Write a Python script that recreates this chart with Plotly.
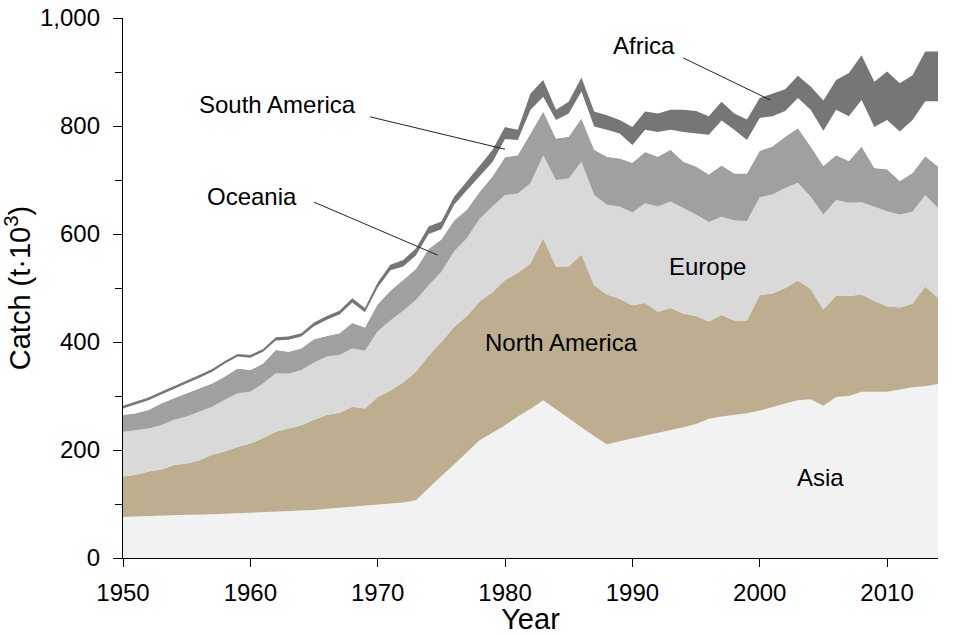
import plotly.graph_objects as go

# catch by region, thousand tonnes
years = list(range(1950, 2015))

asia = [76, 77, 78, 78, 79, 80, 80, 81, 82, 83,
        83, 84, 85, 86, 87, 89, 91, 93, 95, 96,
        98, 100, 103, 107, 130, 152, 173, 195, 218, 232,
        246, 262, 276, 292, 275, 258, 242, 226, 210, 216,
        221, 226, 231, 236, 242, 248, 258, 262, 265, 268,
        273, 280, 286, 292, 294, 282, 298, 300, 308, 308,
        308, 312, 316, 318, 322]

north_america = [75, 77, 82, 86, 93, 95, 101, 110, 115, 123,
                 129, 138, 149, 154, 159, 167, 174, 176, 185, 181,
                 200, 210, 222, 238, 245, 248, 255, 253, 257, 260,
                 269, 266, 270, 300, 265, 282, 320, 279, 278, 264,
                 247, 246, 225, 227, 211, 200, 180, 188, 175, 172,
                 214, 210, 214, 222, 204, 178, 188, 185, 180, 168,
                 158, 152, 155, 185, 160]

europe = [83, 83, 80, 82, 84, 87, 90, 89, 96, 99,
          96, 101, 108, 101, 102, 106, 108, 107, 108, 107,
          122, 130, 133, 133, 130, 130, 140, 144, 153, 159,
          157, 147, 148, 154, 160, 163, 172, 167, 166, 171,
          172, 185, 195, 197, 195, 188, 184, 182, 185, 184,
          181, 183, 185, 181, 171, 176, 177, 173, 171, 175,
          176, 172, 170, 169, 166]

oceania = [31, 31, 34, 40, 40, 43, 43, 43, 43, 46,
           40, 37, 43, 41, 40, 43, 38, 40, 47, 43,
           50, 55, 57, 57, 67, 60, 57, 53, 50, 55,
           70, 71, 92, 81, 77, 77, 80, 84, 89, 89,
           92, 95, 92, 96, 86, 89, 88, 95, 87, 88,
           86, 89, 95, 101, 93, 90, 83, 77, 103, 71,
           78, 62, 72, 72, 77]

south_america = [12, 16, 18, 17, 17, 19, 20, 22, 24, 22,
                 23, 22, 18, 22, 22, 24, 30, 35, 38, 28,
                 31, 38, 25, 25, 28, 19, 29, 36, 30, 27,
                 34, 28, 44, 27, 34, 43, 50, 43, 50, 46,
                 33, 41, 46, 37, 55, 61, 74, 83, 81, 62,
                 61, 56, 48, 56, 68, 65, 84, 83, 86, 76,
                 91, 92, 98, 102, 121]

africa = [5, 5, 5, 5, 5, 5, 5, 5, 5, 5,
          5, 5, 6, 6, 6, 7, 7, 7, 8, 8,
          9, 10, 12, 13, 14, 14, 15, 16, 19, 22,
          22, 19, 30, 31, 19, 22, 26, 28, 27, 25,
          33, 34, 34, 37, 41, 42, 34, 35, 30, 38,
          37, 42, 40, 41, 43, 56, 55, 80, 83, 84,
          90, 89, 83, 92, 92]

layers = [
    ("Asia", asia, "#f2f2f2"),
    ("North America", north_america, "#bcae8e"),
    ("Europe", europe, "#d9d9d9"),
    ("Oceania", oceania, "#a0a0a0"),
    ("South America", south_america, "#ffffff"),
    ("Africa", africa, "#767676"),
]

fig = go.Figure()
for name, vals, col in layers:
    fig.add_trace(go.Scatter(x=years, y=vals, name=name, stackgroup="catch",
                             mode="lines", line=dict(width=0, color=col),
                             fillcolor=col, hoverinfo="skip"))

# region labels placed inside / next to their bands
labels = [
    ("Africa", 1990.9, 950),
    ("South America", 1962.1, 839),
    ("Oceania", 1960.1, 670),
    ("Europe", 1995.9, 539),
    ("North America", 1984.4, 400),
    ("Asia", 2004.8, 150),
]
for txt, lx, ly in labels:
    fig.add_annotation(x=lx, y=ly, text=txt, showarrow=False,
                       font=dict(size=24, color="black"))

# leader lines from the labels to their thin bands
leaders = [
    (1994.0, 926, 2000.84, 848),
    (1969.4, 817, 1980.0, 757),
    (1965.0, 659, 1974.7, 561),
]
for tx, ty, hx, hy in leaders:
    fig.add_shape(type="line", x0=tx, y0=ty, x1=hx, y1=hy, xref="x", yref="y",
                  line=dict(color="#222222", width=1))

fig.update_layout(
    width=955, height=635,
    margin=dict(l=123, r=17, t=18, b=77, autoexpand=False),
    paper_bgcolor="white", plot_bgcolor="white",
    showlegend=False,
    font=dict(family="Liberation Sans, Arial, sans-serif", size=24, color="black"),
)
fig.update_xaxes(range=[1950, 2014], tick0=1950, dtick=10,
                 ticks="outside", ticklen=8, tickwidth=1.3, tickcolor="black",
                 ticklabelstandoff=5,
                 showline=True, linecolor="black", linewidth=1.3,
                 showgrid=False, zeroline=False, automargin=False,
                 title=dict(text="Year", standoff=9))
fig.update_yaxes(range=[0, 1000], dtick=200, tickformat=",d",
                 ticks="outside", ticklen=9, tickwidth=1.3, tickcolor="black",
                 ticklabelstandoff=8, automargin=False,
                 minor=dict(dtick=100, ticks="outside", ticklen=7, tickwidth=1.3,
                            tickcolor="black"),
                 showline=True, linecolor="black", linewidth=1.3,
                 showgrid=False, zeroline=False,
                 title=dict(text="Catch (t·10<sup>3</sup>)", standoff=3))

# drop the default page margin so the figure sits at the window corner
fig.write_html("out.html", config={"displayModeBar": False},
               post_script="document.body.style.margin='0';")
